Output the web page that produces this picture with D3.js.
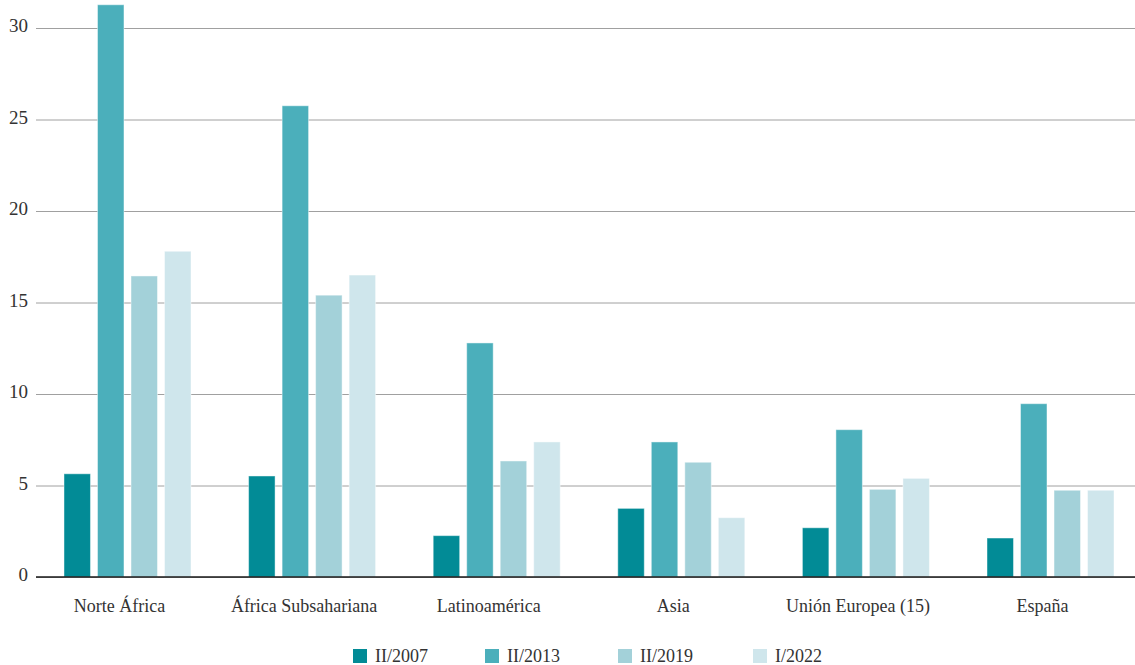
<!DOCTYPE html>
<html><head><meta charset="utf-8">
<script src="https://cdn.jsdelivr.net/npm/d3@7"></script>
<style>body{margin:0;background:#fff;} svg text{font-family:"Liberation Serif","DejaVu Serif",serif !important;fill:#333;}</style>
</head><body><svg id="c" width="1135" height="665"></svg>
<script>
const categories = ["Norte África","África Subsahariana","Latinoamérica","Asia","Unión Europea (15)","España"];
const seriesNames = ["II/2007","II/2013","II/2019","I/2022"];
const s2007 = [5.64, 5.52, 2.26, 3.75, 2.69, 2.13];
const s2013 = [31.27, 25.75, 12.79, 7.38, 8.05, 9.47];
const s2019 = [16.45, 15.4, 6.34, 6.27, 4.79, 4.74];
const s2022 = [17.8, 16.5, 7.38, 3.24, 5.39, 4.74];
const yTicks = [0,5,10,15,20,25,30];
const colors = ["#028b96","#4bafbb","#a3d1d9","#cfe6ec"];

const FONT = '"Liberation Serif","DejaVu Serif",serif';
const series = [s2007, s2013, s2019, s2022];
const svg = d3.select("#c");
const y = d3.scaleLinear().domain([0,30]).range([577,28]);
const x0 = d3.scaleBand().domain(categories).range([36.3,1141.7]).paddingInner(0.312).paddingOuter(0.15);
const x1 = d3.scaleBand().domain(seriesNames).range([0,x0.bandwidth()]).paddingInner(0.21);

// gridlines
const grid = svg.append("g")
  .call(d3.axisLeft(y).tickValues(yTicks).tickSize(-1099).tickFormat(""))
  .attr("transform","translate(36,0)");
grid.select(".domain").remove();
grid.selectAll("line").attr("stroke","#a0a0a0").attr("stroke-width",1);

// y labels
const ya = svg.append("g").attr("transform","translate(28,0)")
  .call(d3.axisLeft(y).tickValues(yTicks).tickSize(0).tickPadding(0));
ya.attr("font-family",FONT);
ya.select(".domain").remove();
ya.selectAll("text").attr("font-family",FONT).style("font-size","19px").attr("fill","#333").attr("dy","0.2em");

// bars
const g = svg.append("g");
categories.forEach((c,i)=>{
  seriesNames.forEach((s,j)=>{
    const v = series[j][i];
    g.append("rect")
      .attr("x", x0(c)+x1(s))
      .attr("y", y(v))
      .attr("width", x1.bandwidth())
      .attr("height", y(0)-y(v))
      .attr("fill", colors[j])
      .attr("stroke","#ffffff").attr("stroke-opacity",0.45).attr("stroke-width",1);
  });
});
svg.append("line").attr("x1",36).attr("x2",1135).attr("y1",y(0)).attr("y2",y(0)).attr("stroke","#1a1a1a").attr("stroke-width",1.5);

// x labels
const xa = svg.append("g").attr("transform",`translate(-8,${y(0)})`)
  .call(d3.axisBottom(x0).tickSize(0).tickPadding(22));
xa.attr("font-family",FONT);
xa.select(".domain").remove();
xa.selectAll("text").attr("font-family",FONT).style("font-size","18px").attr("fill","#333");

// legend
const legX = [353,485,618,753];
const leg = svg.append("g");
seriesNames.forEach((s,j)=>{
  leg.append("rect").attr("x",legX[j]).attr("y",649).attr("width",14).attr("height",14).attr("fill",colors[j]);
  leg.append("text").attr("x",legX[j]+22).attr("y",662).attr("font-family",FONT).style("font-size","18px").attr("fill","#333").text(s);
});
</script></body></html>
